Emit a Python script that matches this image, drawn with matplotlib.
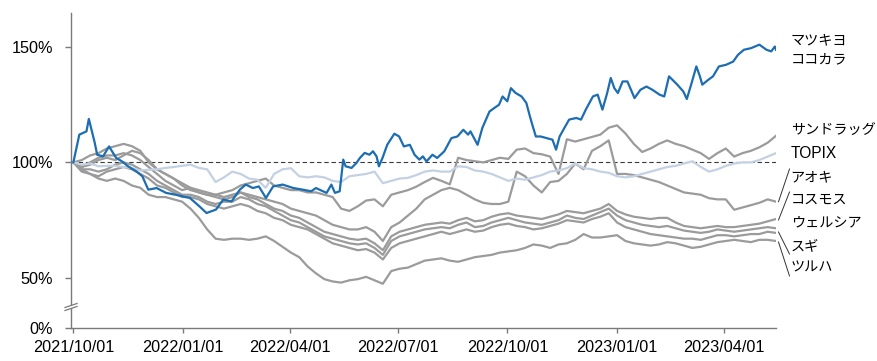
import matplotlib
matplotlib.use('Agg')
import matplotlib.pyplot as plt
from matplotlib.lines import Line2D
from matplotlib.patches import Polygon
import pandas as pd

# ---------------- data (index, start = 100) ----------------
start = pd.Timestamp('2021-10-01')
dates = pd.date_range('2021-10-01', '2023-05-15', periods=85)

# マツキヨココカラ: day offsets from 2021-10-01 and index values
mk_days = [0, 5, 11, 13, 18, 20, 25, 30, 36, 41, 46, 53, 58, 63, 70, 78, 86, 98, 106, 112,
           120, 126, 133, 140, 145, 151, 156, 162, 168, 176, 185, 193, 200, 204, 213, 217,
           220, 224, 227, 229, 234, 238, 241, 245, 249, 252, 255, 257, 260, 264, 270, 274,
           278, 283, 287, 291, 294, 297, 302, 306, 312, 318, 323, 328, 332, 334, 340, 344,
           350, 354, 358, 361, 365, 368, 372, 377, 381, 384, 386, 389, 393, 398, 403, 406,
           409, 413, 417, 423, 427, 431, 437, 441, 445, 449, 452, 455, 458, 462, 466, 472,
           477, 482, 487, 493, 497, 501, 508, 513, 516, 520, 524, 527, 529, 534, 538, 543,
           549, 555, 559, 564, 570, 577, 583, 587, 590, 591]
mk_vals = [100, 112, 113.4, 118.8, 108.4, 103.3, 102.6, 106.9, 101.9, 100.4, 98.3, 96.1,
           94, 88.2, 88.9, 86.8, 86, 84.6, 81, 78.1, 79.6, 83.9, 83.1, 88.2, 90.4, 88.9,
           89.6, 84.6, 89.6, 90.4, 88.9, 88.2, 87.5, 88.9, 86.8, 90.4, 86.8, 87.5, 101.2,
           98.3, 97.6, 99.7, 101.9, 104.1, 103.3, 104.8, 102.6, 98.3, 101.9, 107.6, 112.4,
           111.2, 106.9, 107.6, 103.3, 101.2, 102.6, 100.4, 103.3, 101.9, 104.8, 110.5,
           111.2, 114.1, 112, 113.4, 107.6, 114.9, 122, 123.5, 124.9, 128.5, 126.4, 132.1,
           130, 128.5, 125.7, 119.9, 116.3, 111.2, 111.2, 110.5, 109.8, 105.5, 111.2, 114.9,
           118.5, 119.2, 118.5, 122.8, 128.5, 129.3, 122.8, 130, 136.5, 132.1, 130, 135, 135,
           127.8, 131.4, 132.8, 131.4, 129.3, 128.5, 137.2, 133.6, 130.7, 127.4, 134.3,
           141.5, 137.2, 133.6, 135.7, 137.2, 141.5, 142.2, 143.6, 146.5, 148.7, 149.4,
           150.9, 148.7, 148, 150.1, 148.7]

topix = [100, 99, 99.5, 98.3, 98.5, 98.5, 98, 97.5, 96.5, 96.8, 97, 97.6, 98, 98.5,
         99, 97.6, 97, 91.5, 93.5, 96, 95, 93, 92.5, 89, 95, 97, 97.5,
         94, 93.5, 94, 93.5, 92, 91.5, 94, 94.5, 95, 96, 91, 92, 93,
         93.3, 94.5, 96, 96.5, 96, 96, 98.3, 98, 96.5, 96, 95, 93.5, 92,
         93, 92.5, 93.5, 94.5, 96, 96.5, 97.5, 99.5, 97.5, 97, 96, 95.5, 94,
         93.5, 94, 95, 96, 97, 98, 98.5, 99.5, 100.5, 98, 96, 97, 98.5,
         99.5, 100, 100, 101, 102.5, 104]

sundrug = [100, 101, 103, 104, 106, 107, 108, 107, 105, 100, 97, 95, 93, 91,
           89, 87, 86, 86, 87, 88, 90, 91, 92, 93, 90, 89, 88,
           88, 87, 87, 86, 85, 80, 79, 81, 83.5, 84, 81, 86, 87,
           88, 89.5, 91.5, 93.3, 92, 90.5, 102, 101, 100.5, 100, 101, 102, 101.5,
           105.5, 106, 104, 103.5, 102.5, 95, 110, 109, 110, 111, 112, 115, 116,
           112.5, 108, 104.5, 106, 108, 109.5, 108, 107, 105.5, 104, 101.5, 104, 106,
           102.5, 104, 105, 106.5, 108.5, 111.5]

aoki = [100, 98, 99, 101, 102, 101, 103, 105, 104, 101, 97, 95, 93, 90,
        88, 87, 86, 85, 84, 85, 87, 86, 85, 84, 83, 82, 80,
        79, 78, 77, 75, 73, 72, 71, 71, 72, 70, 66, 72, 74,
        77, 80, 84, 86, 88, 89, 88, 86, 84, 82.5, 82, 82, 83,
        96, 94, 90, 87, 91.5, 92, 95, 99.5, 97, 105, 107, 109.5, 95,
        95, 94.5, 93.5, 92.5, 91.5, 90, 88.5, 87, 86.5, 86, 84.5, 84, 84,
        79.5, 80.5, 81.5, 82.5, 84, 83]

cosmos = [100, 98, 100, 102, 103, 103, 104, 103, 101, 98, 95, 92, 90, 88,
          89, 88, 87, 86, 85, 86, 87, 85, 84, 82, 80, 79, 77,
          76, 74, 72, 70, 69, 68, 67, 66.5, 67, 65, 62, 68, 70,
          71, 72, 73, 73.5, 74, 73.5, 75, 76, 74.5, 75, 76.5, 77.5, 78,
          77, 76.5, 76, 75.5, 76.5, 77.5, 79, 78.5, 78, 79, 80, 82, 79,
          77.5, 76.5, 76, 75.5, 76, 76, 74, 72.5, 72, 71.5, 72, 72.5, 72,
          72, 72.5, 73, 73.5, 74.5, 75.5]

welcia = [100, 97, 97, 96, 97, 99, 100, 99, 97, 95, 92, 90, 88, 86,
          86, 85, 83, 82, 83, 83, 85, 84, 82, 81, 79, 77, 75,
          74, 72, 70, 68, 67, 66, 65, 64.5, 65, 63, 60, 66, 68,
          69, 70, 71, 71.5, 72, 71.5, 73, 74, 72, 72.5, 74, 75, 76,
          75, 74, 73.5, 73, 74, 75, 77, 76, 75.5, 77, 78.5, 80, 77,
          75, 74, 73, 72.5, 72, 72.5, 71.5, 70.5, 70, 69.5, 70, 71, 70.5,
          70, 70.5, 71, 71.5, 72, 71.5]

sugi = [100, 96, 95, 94, 96, 97, 98, 97, 95, 93, 90, 89, 87, 85,
        85, 84, 82, 81, 80, 81, 82, 81, 79, 78, 76, 75, 73,
        72, 71, 69, 67, 65, 64, 63, 62, 62.5, 61, 58, 63, 65,
        66, 67, 68, 69, 70, 69, 70, 71, 70, 70.5, 72, 73, 73.5,
        72.5, 72, 71, 71.5, 72.5, 73.5, 75, 74.5, 74, 75.5, 76.5, 78, 74,
        72, 71, 70, 69, 68.5, 68, 67.5, 67, 67, 66.5, 67.5, 68.5, 68.5,
        68, 68.5, 69, 69, 70, 69.5]

tsuruha = [100, 97, 95, 93, 92, 93, 92, 90, 89, 86, 85, 85, 84, 83,
           80, 76, 71, 67, 66.5, 67, 67, 66.5, 67, 68, 66, 63.5, 61,
           59, 55, 52, 49.5, 48.5, 48, 49, 49.5, 50.5, 49, 47.5, 53, 54,
           54.5, 56, 57.5, 58, 58.5, 57.5, 57, 58, 59, 59.5, 60, 61, 61.5,
           62, 63, 64.5, 64, 63, 64.5, 65, 66.5, 69, 67.5, 67.5, 68, 68.5,
           66, 65, 64.5, 64, 64.5, 65.5, 65, 64, 63, 63.5, 64.5, 65.5, 66,
           66.5, 66, 65.5, 66.5, 66.5, 66]

tick_dates = ['2021-10-01', '2022-01-01', '2022-04-01', '2022-07-01',
              '2022-10-01', '2023-01-01', '2023-04-01']
ytick_vals = [50, 100, 150]
ytick_labels = ['50%', '100%', '150%']

# ---------------- styling ----------------
BLUE = '#1c6db1'
GRAY = '#9b9b9b'
TOPIX_C = '#c3d1e2'
W, H = 877, 361

fig = plt.figure(figsize=(W / 100, H / 100), dpi=100)
ax_left, ax_right, ax_top, ax_bot = 71, 776, 13, 327.7
ax = fig.add_axes([ax_left / W, 1 - ax_bot / H, (ax_right - ax_left) / W, (ax_bot - ax_top) / H])

# broken axis: 50% sits at its true place, "0%" placed just below
y_zero_pos = 28.5
ax.set_ylim(y_zero_pos, 164.6)
ax.set_xlim(pd.Timestamp('2021-09-29'), pd.Timestamp('2023-05-15'))

ax.axhline(100, color='#3a3a3a', lw=0.8, ls=(0, (4, 2.5)), zorder=1)

for s in [tsuruha, sugi, welcia, cosmos, aoki, sundrug]:
    ax.plot(dates, s, color=GRAY, lw=1.6, zorder=2, solid_joinstyle='round')
ax.plot(dates, topix, color=TOPIX_C, lw=1.6, zorder=3)
mk_dates = [start + pd.Timedelta(days=d) for d in mk_days]
ax.plot(mk_dates, mk_vals, color=BLUE, lw=1.6, zorder=4)

# axes styling
for sp in ['top', 'right']:
    ax.spines[sp].set_visible(False)
for sp in ['left', 'bottom']:
    ax.spines[sp].set_color('#7a7a7a')
    ax.spines[sp].set_linewidth(1.0)

lat_font = 'Liberation Sans'
ax.set_yticks([y_zero_pos] + ytick_vals)
ax.set_yticklabels(['0%'] + ytick_labels, fontsize=11.7, family=lat_font)
ax.set_xticks([pd.Timestamp(d) for d in tick_dates])
ax.set_xticklabels([pd.Timestamp(d).strftime('%Y/%m/%d') for d in tick_dates],
                   fontsize=11.7, family=lat_font)
ax.tick_params(axis='y', length=4.3, width=1.0, color='#7a7a7a', pad=8.5, labelcolor='black')
ax.tick_params(axis='x', length=3.6, width=1.0, color='#7a7a7a', pad=5, labelcolor='black')

# break marks on the y axis
def px2fig(x, y):
    return x / W, 1 - y / H

gap = [px2fig(65, 310.5), px2fig(77, 306.5), px2fig(77, 303.5), px2fig(65, 307.5)]
fig.patches.append(Polygon(gap, closed=True, transform=fig.transFigure,
                           facecolor='white', edgecolor='none', zorder=5))
for dy in (0, 3):
    (x0, y0), (x1, y1) = px2fig(65, 310.5 - dy), px2fig(77, 306.5 - dy)
    fig.lines.append(Line2D([x0, x1], [y0, y1], transform=fig.transFigure,
                            color='#7a7a7a', lw=0.9, zorder=6))

# right-hand labels
labels = [('マツキヨ', 40, None), ('ココカラ', 59, None), ('サンドラッグ', 131, None),
          ('TOPIX', 154, None), ('アオキ', 177, 201.7), ('コスモス', 200, 220),
          ('ウェルシア', 222, None), ('スギ', 246, 232), ('ツルハ', 268, 242)]
label_x = 790.7
for text, ypx, line_y in labels:
    fx, fy = px2fig(label_x, ypx)
    fam = [lat_font, 'Noto Sans CJK JP'] if text == 'TOPIX' else ['Noto Sans CJK JP']
    fs = 11.2 if text == 'TOPIX' else 10.2
    fig.text(fx, fy, text, fontsize=fs, family=fam, ha='left', va='center', color='black')
    if line_y is not None:
        end_y = ypx + (8 if ypx > line_y else -8)
        (x0, y0), (x1, y1) = px2fig(778.5, line_y), px2fig(789.5, end_y)
        fig.lines.append(Line2D([x0, x1], [y0, y1], transform=fig.transFigure,
                                color='#333333', lw=0.7))

fig.savefig('out.png', dpi=100)
